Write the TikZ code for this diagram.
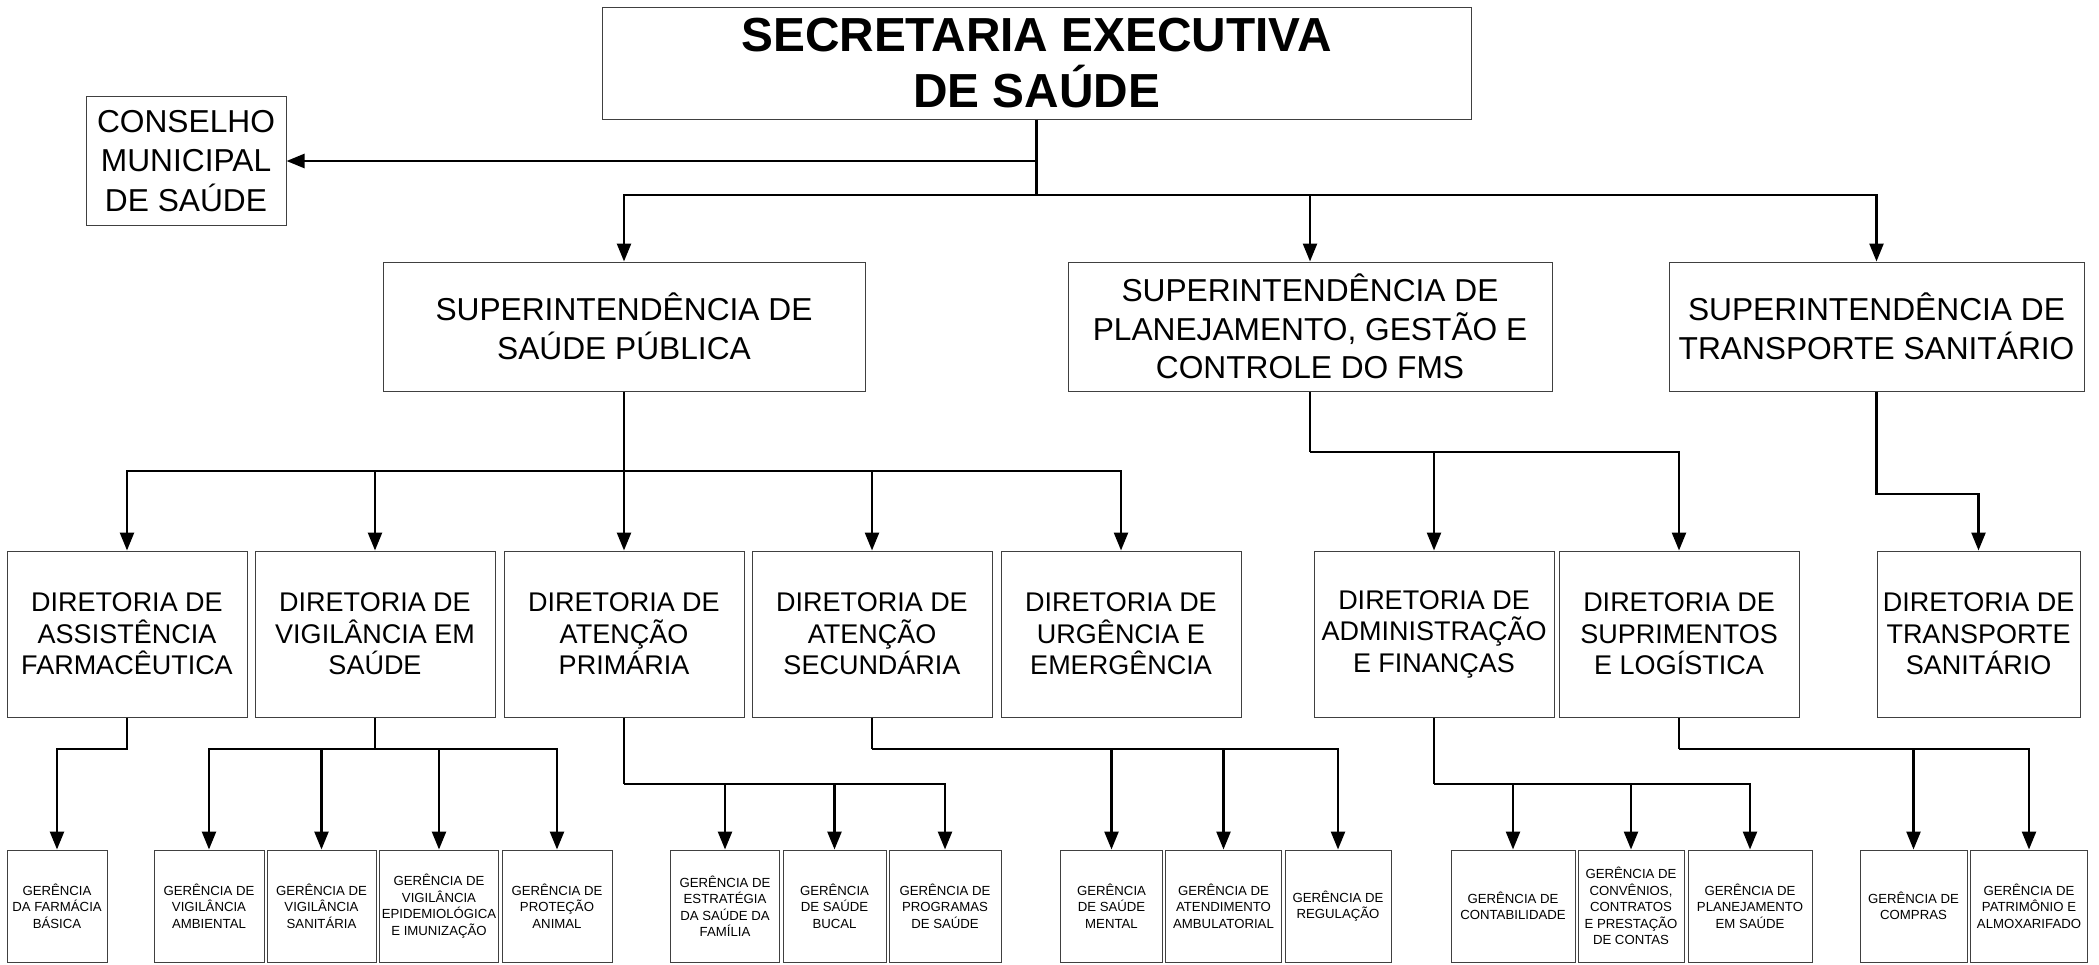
\documentclass[tikz,border=0pt]{standalone}
\usepackage{fontspec}
\setmainfont{Liberation Sans}
\usetikzlibrary{arrows.meta}

\tikzset{
  box/.style={draw=black!75, line width=1pt, inner sep=0pt, align=center},
  link/.style={line width=2.5pt, -{Triangle[width=14pt,length=18pt]}},
  trunk/.style={line width=2.5pt},
  supbox/.style={box, minimum height=129pt, font=\fontsize{31.7}{38.5}\selectfont},
  dirbox/.style={box, minimum height=166pt, minimum width=240pt, font=\fontsize{27}{31.5}\selectfont},
  gerbox/.style={box, minimum height=112pt, font=\fontsize{13.2}{16.5}\selectfont},
}

\begin{document}
\begin{tikzpicture}[x=1pt, y=-1pt]
  \useasboundingbox (0,0) rectangle (2099,964);

  % top level
  \node[box, minimum width=869pt, minimum height=112pt,
        font=\fontsize{47.8}{56}\selectfont\bfseries] (sec) at (1036.5,63)
        {SECRETARIA EXECUTIVA\\DE SAÚDE};
  \node[box, minimum width=200pt, minimum height=129pt,
        font=\fontsize{31.7}{39.5}\selectfont] (cms) at (186,161)
        {CONSELHO\\MUNICIPAL\\DE SAÚDE};

  % superintendencias
  \node[supbox, minimum width=482pt] (sup1) at (624,326.5) {SUPERINTENDÊNCIA DE\\SAÚDE PÚBLICA};
  \node[supbox, minimum width=484pt] (sup2) at (1310,326.5) {SUPERINTENDÊNCIA DE\\PLANEJAMENTO, GESTÃO E\\CONTROLE DO FMS};
  \node[supbox, minimum width=415pt] (sup3) at (1876.5,326.5) {SUPERINTENDÊNCIA DE\\TRANSPORTE SANITÁRIO};

  % diretorias
  \node[dirbox] (d1) at (127,634) {DIRETORIA DE\\ASSISTÊNCIA\\FARMACÊUTICA};
  \node[dirbox] (d2) at (375,634) {DIRETORIA DE\\VIGILÂNCIA EM\\SAÚDE};
  \node[dirbox] (d3) at (624,634) {DIRETORIA DE\\ATENÇÃO\\PRIMÁRIA};
  \node[dirbox] (d4) at (872,634) {DIRETORIA DE\\ATENÇÃO\\SECUNDÁRIA};
  \node[dirbox] (d5) at (1121,634) {DIRETORIA DE\\URGÊNCIA E\\EMERGÊNCIA};
  \node[dirbox] (d6) at (1434,634) {DIRETORIA DE\\ADMINISTRAÇÃO\\E FINANÇAS};
  \node[dirbox] (d7) at (1679,634) {DIRETORIA DE\\SUPRIMENTOS\\E LOGÍSTICA};
  \node[dirbox, minimum width=203pt] (d8) at (1978.5,634) {DIRETORIA DE\\TRANSPORTE\\SANITÁRIO};

  % gerencias
  \node[gerbox, minimum width=100pt] (g1) at (57,906) {GERÊNCIA\\DA FARMÁCIA\\BÁSICA};
  \node[gerbox, minimum width=110pt] (g2) at (209,906) {GERÊNCIA DE\\VIGILÂNCIA\\AMBIENTAL};
  \node[gerbox, minimum width=109pt] (g3) at (321.5,906) {GERÊNCIA DE\\VIGILÂNCIA\\SANITÁRIA};
  \node[gerbox, minimum width=119pt] (g4) at (439,906) {GERÊNCIA DE\\VIGILÂNCIA\\EPIDEMIOLÓGICA\\E IMUNIZAÇÃO};
  \node[gerbox, minimum width=110pt] (g5) at (557,906) {GERÊNCIA DE\\PROTEÇÃO\\ANIMAL};
  \node[gerbox, minimum width=109pt] (g6) at (725,906) {GERÊNCIA DE\\ESTRATÉGIA\\DA SAÚDE DA\\FAMÍLIA};
  \node[gerbox, minimum width=103pt] (g7) at (834.5,906) {GERÊNCIA\\DE SAÚDE\\BUCAL};
  \node[gerbox, minimum width=112pt] (g8) at (945,906) {GERÊNCIA DE\\PROGRAMAS\\DE SAÚDE};
  \node[gerbox, minimum width=102pt] (g9) at (1111.5,906) {GERÊNCIA\\DE SAÚDE\\MENTAL};
  \node[gerbox, minimum width=116pt] (g10) at (1223.5,906) {GERÊNCIA DE\\ATENDIMENTO\\AMBULATORIAL};
  \node[gerbox, minimum width=106pt] (g11) at (1338,906) {GERÊNCIA DE\\REGULAÇÃO};
  \node[gerbox, minimum width=124pt] (g12) at (1513,906) {GERÊNCIA DE\\CONTABILIDADE};
  \node[gerbox, minimum width=106pt] (g13) at (1631,906) {GERÊNCIA DE\\CONVÊNIOS,\\CONTRATOS\\E PRESTAÇÃO\\DE CONTAS};
  \node[gerbox, minimum width=124pt] (g14) at (1750,906) {GERÊNCIA DE\\PLANEJAMENTO\\EM SAÚDE};
  \node[gerbox, minimum width=107pt] (g15) at (1913.5,906) {GERÊNCIA DE\\COMPRAS};
  \node[gerbox, minimum width=117pt] (g16) at (2029,906) {GERÊNCIA DE\\PATRIMÔNIO E\\ALMOXARIFADO};

  % junctions
  \coordinate (jcms) at (1036.5,161);
  \coordinate (jsec) at (1036.5,195);
  \coordinate (jsup1) at (624,471);
  \coordinate (jsup2) at (1310,452);
  \coordinate (jsup3) at (1876.5,494);
  \coordinate (jd1) at (127,749);
  \coordinate (jd2) at (375,749);
  \coordinate (jd3) at (624,784);
  \coordinate (jd4) at (872,749);
  \coordinate (jd6) at (1434,784);
  \coordinate (jd7) at (1679,749);

  % connectors
  \draw[trunk] (sec.south) -- (jsec);
  \draw[link] (jcms) -- (cms.east);
  \foreach \s in {sup1,sup2,sup3}
    \draw[link] (jsec) -| (\s.north);

  \draw[trunk] (sup1.south) -- (jsup1);
  \foreach \d in {d1,d2,d3,d4,d5}
    \draw[link] (jsup1) -| (\d.north);
  \draw[trunk] (sup2.south) -- (jsup2);
  \foreach \d in {d6,d7}
    \draw[link] (jsup2) -| (\d.north);
  \draw[link] (sup3.south) -- (jsup3) -| (d8.north);

  \draw[link] (d1.south) -- (jd1) -| (g1.north);
  \draw[trunk] (d2.south) -- (jd2);
  \foreach \g in {g2,g3,g4,g5}
    \draw[link] (jd2) -| (\g.north);
  \draw[trunk] (d3.south) -- (jd3);
  \foreach \g in {g6,g7,g8}
    \draw[link] (jd3) -| (\g.north);
  \draw[trunk] (d4.south) -- (jd4);
  \foreach \g in {g9,g10,g11}
    \draw[link] (jd4) -| (\g.north);
  \draw[trunk] (d6.south) -- (jd6);
  \foreach \g in {g12,g13,g14}
    \draw[link] (jd6) -| (\g.north);
  \draw[trunk] (d7.south) -- (jd7);
  \foreach \g in {g15,g16}
    \draw[link] (jd7) -| (\g.north);
\end{tikzpicture}
\end{document}
